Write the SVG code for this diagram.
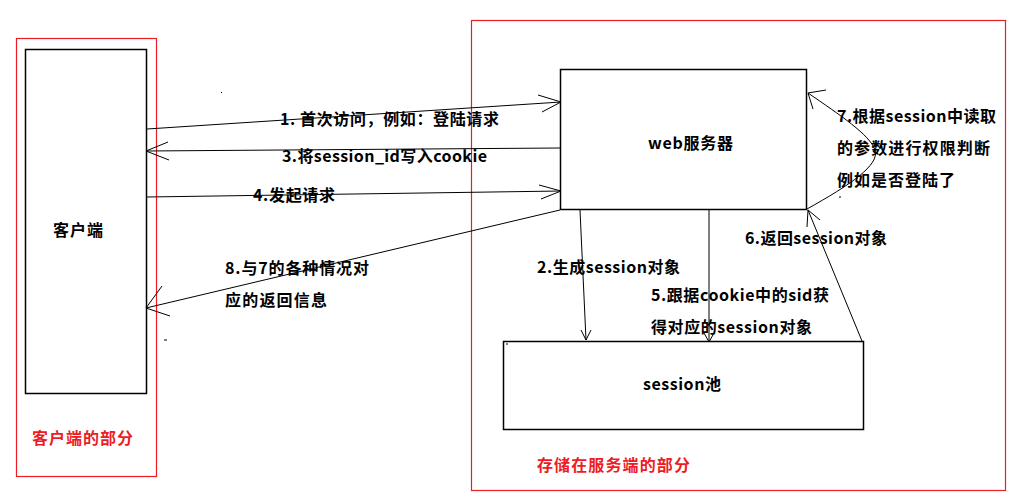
<svg xmlns="http://www.w3.org/2000/svg" width="1009" height="497" viewBox="0 0 1009 497">
<style>
.box{fill:#fff;stroke:#000;stroke-width:1.5}
.region{fill:none;stroke:#ed1c24;stroke-width:1.2}
.ln{fill:none;stroke:#000;stroke-width:1}
text{font-family:"Microsoft YaHei","Noto Sans CJK SC",sans-serif;font-weight:bold;font-size:16px;fill:#000}
.red{fill:#ed1c24}
</style>
<rect width="1009" height="497" fill="#fff"/>
<g id="client-region">
<rect class="region" x="16.5" y="38.5" width="140" height="438"/>
<text class="red" x="32" y="444" textLength="101">客户端的部分</text>
</g>
<g id="server-region">
<rect class="region" x="471.5" y="20.5" width="534" height="470"/>
<text class="red" x="537" y="471" textLength="153">存储在服务端的部分</text>
</g>
<g id="client">
<rect class="box" x="25.5" y="49.5" width="121" height="344"/>
<text x="53" y="236" textLength="50">客户端</text>
</g>
<g id="web-server">
<rect class="box" x="560.5" y="69.5" width="246" height="140"/>
<text x="648" y="149" textLength="85">web服务器</text>
</g>
<g id="session-pool">
<rect class="box" x="503.5" y="341.5" width="360" height="88"/>
<text x="643" y="390" textLength="78">session池</text>
</g>
<g id="connectors">
<path class="ln" d="M147,129 L561,102 M538,95 L561,102 L542,112"/>
<path class="ln" d="M560,148 L146,151 M168,142 L146,151 L169,160"/>
<path class="ln" d="M147,197 L561,191 M539,185 L561,191 L541,199"/>
<path class="ln" d="M560,210 L146,308 M162,286 L146,308 L170,316"/>
<path class="ln" d="M580,210 L586,340 M581,330 L586,340 L591,330"/>
<path class="ln" d="M709,210 L709,342 M704,333 L709,342 L714,333"/>
<path class="ln" d="M862,341 L808,210 M807,227 L808,210 L820,220"/>
<path class="ln" d="M807,209 C850,185 880,165 875,150 C870,135 840,115 808,93 M826,90 L808,93 L813,109"/>
<path class="ln" d="M164,340 L167,340 M839,197 L841,197 M221,93 L222,92 M506,344 L508,344"/>
</g>
<g id="labels">
<text x="280" y="125" textLength="219">1. 首次访问，例如：登陆请求</text>
<text x="282" y="162" textLength="205">3.将session_id写入cookie</text>
<text x="253" y="201" textLength="82">4.发起请求</text>
<text x="225" y="274" textLength="144">8.与7的各种情况对</text>
<text x="225" y="306" textLength="102">应的返回信息</text>
<text x="537" y="273" textLength="143">2.生成session对象</text>
<text x="651" y="301" textLength="178">5.跟据cookie中的sid获</text>
<text x="651" y="333" textLength="161">得对应的session对象</text>
<text x="745" y="244" textLength="142">6.返回session对象</text>
<text x="837" y="122" textLength="159">7.根据session中读取</text>
<text x="837" y="154" textLength="153">的参数进行权限判断</text>
<text x="837" y="186" textLength="118">例如是否登陆了</text>
</g>
</svg>
